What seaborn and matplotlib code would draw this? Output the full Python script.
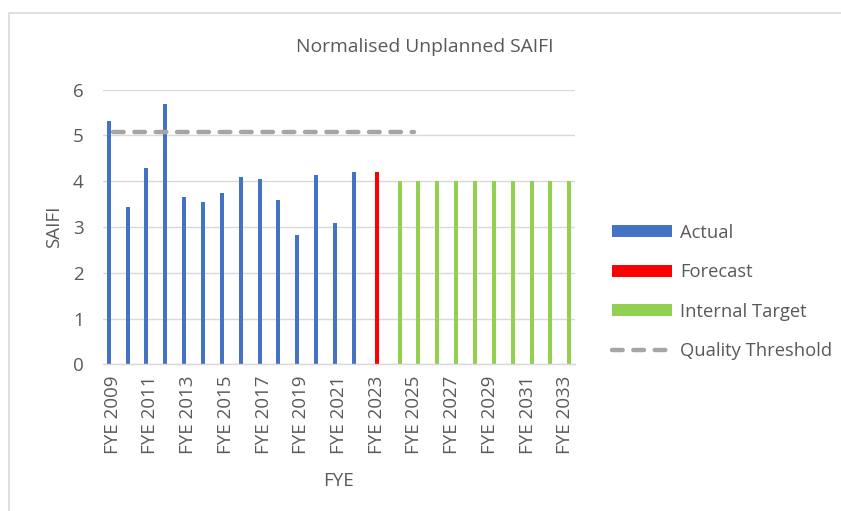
from matplotlib import pyplot as plt
from matplotlib.patches import Rectangle
from matplotlib.lines import Line2D
import seaborn as sns
import pandas as pd
import numpy as np

years = ["FYE %d" % y for y in range(2009, 2034)]

actual = [5.32, 3.44, 4.28, 5.68, 3.66, 3.54, 3.74, 4.09, 4.05, 3.60,
          2.82, 4.14, 3.09, 4.20]
forecast = [4.20]
internal_target = [4.0, 4.0, 4.0, 4.0, 4.0, 4.0, 4.0, 4.0, 4.0, 4.0]
quality_threshold = [5.07] * 17  # FYE 2009 .. FYE 2025

series_names = ["Actual", "Forecast", "Internal Target"]
palette = {"Actual": "#4472C4", "Forecast": "#FF0000", "Internal Target": "#92D050"}
grey_text = "#595959"

# long-form table for the clustered bars
rows = []
for name, vals, start in [("Actual", actual, 0),
                          ("Forecast", forecast, len(actual)),
                          ("Internal Target", internal_target, len(actual) + len(forecast))]:
	for i, v in enumerate(vals):
		rows.append({"FYE": years[start + i], "Series": name, "SAIFI": v})
df = pd.DataFrame(rows)

sns.set_style("white")
plt.rcParams['font.family'] = ['Open Sans', 'DejaVu Sans']

fig = plt.figure(figsize=(8.41, 5.11), dpi=100)
ax = fig.add_axes([0.1228, 0.287, 0.5605, 0.5375])

sns.barplot(data=df, x="FYE", y="SAIFI", hue="Series", order=years, hue_order=series_names,
			palette=palette, width=0.64, dodge=True, saturation=1, errorbar=None,
			linewidth=0, ax=ax, legend=False)

dash = (2.4, 2.4)
sns.lineplot(x=np.arange(len(quality_threshold)), y=quality_threshold, ax=ax, color="#A5A5A5",
			 linewidth=3.2, dashes=dash, zorder=3)
ax.lines[-1].set_dash_capstyle("round")

ax.set_xlim(-0.5, len(years) - 0.5)
ax.set_ylim(0, 6)
ax.set_yticks(np.arange(0, 7, 1))
ax.yaxis.grid(True, color="#D9D9D9", linewidth=1.0)
ax.set_axisbelow(True)
for s in ["top", "right", "left"]:
	ax.spines[s].set_visible(False)
ax.spines["bottom"].set_color("#D9D9D9")
ax.spines["bottom"].set_linewidth(1.0)

ax.set_xticks(np.arange(0, len(years), 2))
ax.set_xticklabels(years[::2], rotation=90)
ax.tick_params(axis="both", length=0, labelsize=13.5, colors=grey_text)
ax.tick_params(axis="x", pad=8)
ax.tick_params(axis="y", pad=14)

ax.set_xlabel("FYE", fontsize=13.5, color=grey_text, labelpad=13)
ax.set_ylabel("SAIFI", fontsize=13.5, color=grey_text, labelpad=7)

fig.text(0.505, 0.908, "Normalised Unplanned SAIFI", ha="center", va="center",
		 fontsize=13.9, color=grey_text)

handles = [Line2D([0], [0], color=palette[n], linewidth=8.6, solid_capstyle="butt") for n in series_names]
handles.append(Line2D([0], [0], color="#A5A5A5", linewidth=3.2, dashes=dash, dash_capstyle="round"))
fig.legend(handles, series_names + ["Quality Threshold"], loc="center left",
		   bbox_to_anchor=(0.708, 0.4286), frameon=False, fontsize=13.2, labelcolor=grey_text,
		   handlelength=3.28, handletextpad=0.44, labelspacing=1.17)

# outer chart border (only top and left edges visible in the crop)
fig.patches.append(Rectangle((8.5 / 841, -0.1), 1.2, 1.1 - 13.5 / 511, transform=fig.transFigure,
							 fill=False, edgecolor="#D9D9D9", linewidth=1.2))

plt.savefig("out.png", dpi=100)
